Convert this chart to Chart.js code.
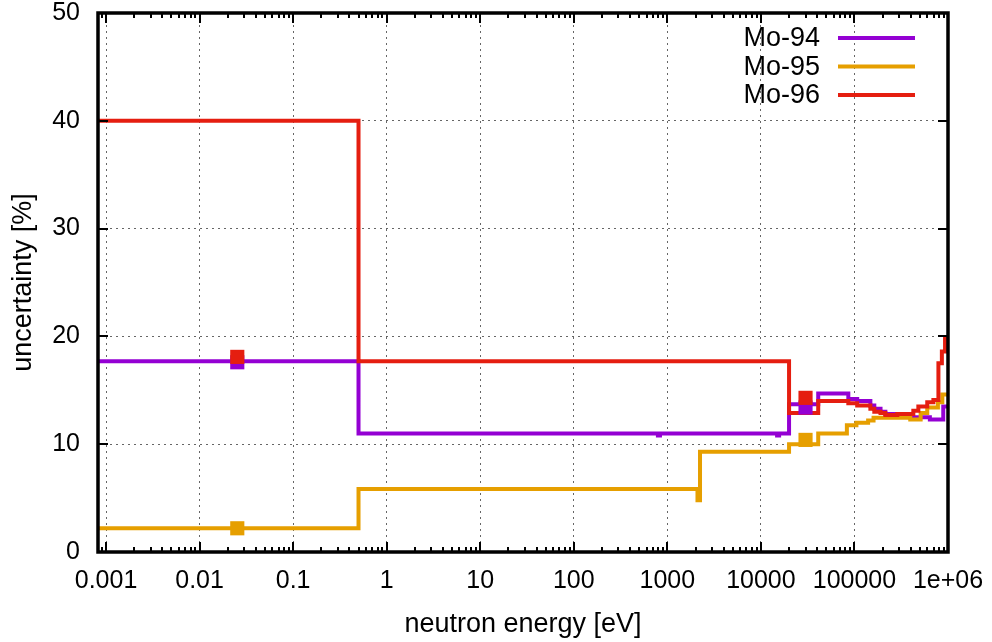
<!DOCTYPE html>
<html>
<head>
<meta charset="utf-8">
<script src="https://cdn.jsdelivr.net/npm/chart.js@4.4.0/dist/chart.umd.min.js"></script>
<style>
html,body{margin:0;padding:0;background:#fff;}
#wrap{width:992px;height:642px;position:relative;}
</style>
</head>
<body>
<div id="wrap"><canvas id="c" width="992" height="642"></canvas></div>
<script>
// ---------------- data ----------------
const seriesNames = ['Mo-94', 'Mo-95', 'Mo-96'];
const seriesColors = ['#9400D3', '#E69F00', '#E51E10'];

// bin lower edges (eV) and values (%) ; last edge closes the histogram
const mo94Energy = [1e-5, 0.5, 793, 834, 14900, 15660, 2.0e4, 4.1e4, 8.6e4, 1.07e5, 1.48e5, 1.63e5, 1.9e5, 2.14e5, 3.09e5, 3.95e5, 6.4e5, 8.9e5, 1e6];
const mo94Values = [17.7, 11.0, 10.8, 11.0, 10.8, 11.0, 13.7, 14.7, 14.2, 14.0, 13.6, 13.3, 13.0, 12.8, 12.6, 12.5, 12.3, 13.5, 13.5];

const mo95Energy = [1e-5, 0.5, 2100, 2235, 2.0e4, 4.1e4, 8.3e4, 1.05e5, 1.4e5, 1.6e5, 3.95e5, 5.1e5, 6.0e5, 7.8e5, 8.7e5, 1e6];
const mo95Values = [2.2, 5.85, 4.8, 9.3, 10.0, 11.0, 11.75, 12.0, 12.2, 12.45, 12.3, 12.9, 13.4, 13.9, 14.6, 14.6];

const mo96Energy = [1e-5, 0.5, 2.0e4, 4.1e4, 8.6e4, 1.07e5, 1.48e5, 1.63e5, 1.9e5, 2.14e5, 2.87e5, 4.26e5, 4.82e5, 6.0e5, 6.98e5, 7.9e5, 8.6e5, 9.3e5, 1e6];
const mo96Values = [40.0, 17.7, 12.9, 14.0, 13.8, 13.6, 13.3, 13.0, 12.9, 12.7, 12.8, 13.1, 13.5, 13.9, 14.1, 17.5, 18.6, 19.9, 19.9];

// thermal (0.0253 eV) and 30 keV point values
const pointEnergy = [0.0253, 30000];
const mo94Points = [17.6, 13.4];
const mo95Points = [2.2, 10.4];
const mo96Points = [18.1, 14.3];

const xTickValues = [1e-3, 1e-2, 1e-1, 1, 10, 100, 1000, 1e4, 1e5, 1e6];
const xTickLabels = ['0.001', '0.01', '0.1', '1', '10', '100', '1000', '10000', '100000', '1e+06'];
const yTickValues = [0, 10, 20, 30, 40, 50];
const xRange = [8.21e-4, 1e6];
const yRange = [0, 50];
const xTitle = 'neutron energy [eV]';
const yTitle = 'uncertainty [%]';

// ---------------- build ----------------
function toXY(xs, ys) { return xs.map((x, i) => ({x: x, y: ys[i]})); }
const stepSets = [[mo94Energy, mo94Values], [mo95Energy, mo95Values], [mo96Energy, mo96Values]];
const pointSets = [mo94Points, mo95Points, mo96Points];

const datasets = [];
stepSets.forEach((s, i) => {
  datasets.push({
    label: seriesNames[i],
    data: toXY(s[0], s[1]),
    borderColor: seriesColors[i],
    backgroundColor: seriesColors[i],
    borderWidth: 4,
    stepped: 'before',
    pointRadius: 0,
    fill: false,
    borderJoinStyle: 'miter',
    borderCapStyle: 'butt',
    order: 6 - i
  });
});
pointSets.forEach((p, i) => {
  datasets.push({
    label: seriesNames[i] + ' points',
    data: toXY(pointEnergy, p),
    showLine: false,
    pointStyle: 'rect',
    pointRadius: 10,
    pointHoverRadius: 10,
    pointBorderWidth: 0,
    pointBackgroundColor: seriesColors[i],
    borderColor: seriesColors[i],
    order: 3 - i
  });
});

const FONT = "'Liberation Sans', Arial, sans-serif";

const framePlugin = {
  id: 'frame',
  afterDraw(chart) {
    const ctx = chart.ctx;
    const a = chart.chartArea;
    const xs = chart.scales.x, ys = chart.scales.y;
    ctx.save();
    ctx.strokeStyle = '#000';
    // minor x ticks
    ctx.lineWidth = 2;
    ctx.beginPath();
    for (let k = -4; k <= 6; k++) {
      for (let m = 2; m <= 9; m++) {
        const v = m * Math.pow(10, k);
        if (v <= xRange[0] || v >= xRange[1]) continue;
        const px = Math.round(xs.getPixelForValue(v));
        ctx.moveTo(px, a.bottom); ctx.lineTo(px, a.bottom - 5);
        ctx.moveTo(px, a.top); ctx.lineTo(px, a.top + 5);
      }
    }
    // major x ticks
    xTickValues.forEach(v => {
      const px = Math.round(xs.getPixelForValue(v));
      ctx.moveTo(px, a.bottom); ctx.lineTo(px, a.bottom - 10);
      ctx.moveTo(px, a.top); ctx.lineTo(px, a.top + 10);
    });
    // major y ticks
    yTickValues.forEach(v => {
      const py = Math.round(ys.getPixelForValue(v));
      ctx.moveTo(a.left, py); ctx.lineTo(a.left + 10, py);
      ctx.moveTo(a.right, py); ctx.lineTo(a.right - 10, py);
    });
    ctx.stroke();
    // frame
    ctx.lineWidth = 3.5;
    ctx.strokeRect(a.left, a.top, a.right - a.left, a.bottom - a.top);
    // legend
    ctx.font = '27px ' + FONT;
    ctx.textAlign = 'right';
    ctx.textBaseline = 'middle';
    seriesNames.forEach((name, i) => {
      const y = 38 + i * 28.5;
      ctx.fillStyle = '#000';
      ctx.fillText(name, 820, y + 1);
      ctx.strokeStyle = seriesColors[i];
      ctx.lineWidth = 4;
      ctx.beginPath();
      ctx.moveTo(838, y); ctx.lineTo(915, y);
      ctx.stroke();
    });
    ctx.restore();
  }
};

new Chart(document.getElementById('c'), {
  type: 'line',
  data: { datasets: datasets },
  plugins: [framePlugin],
  options: {
    responsive: false,
    animation: false,
    devicePixelRatio: 1,
    layout: { padding: { top: 13, right: 44, left: 0, bottom: 0 } },
    plugins: { legend: { display: false }, tooltip: { enabled: false } },
    scales: {
      x: {
        type: 'logarithmic',
        min: xRange[0], max: xRange[1],
        afterBuildTicks(scale) { scale.ticks = xTickValues.map(v => ({value: v})); },
        afterFit(scale) { scale.height = 90; scale.paddingLeft = 0; scale.paddingRight = 0; },
        ticks: {
          autoSkip: false, maxRotation: 0, minRotation: 0, padding: 14, color: '#000',
          font: { family: FONT, size: 25 },
          callback(value, index) { return xTickLabels[index]; }
        },
        grid: { color: 'rgba(0,0,0,0.6)', lineWidth: 1, drawTicks: false },
        border: { display: false, dash: [2, 4] },
        title: { display: true, text: xTitle, color: '#000', font: { family: FONT, size: 27 }, padding: { top: 0, bottom: 1 } }
      },
      y: {
        type: 'linear',
        min: yRange[0], max: yRange[1],
        afterBuildTicks(scale) { scale.ticks = yTickValues.map(v => ({value: v})); },
        afterFit(scale) { scale.width = 98; scale.paddingTop = 0; scale.paddingBottom = 0; },
        ticks: { padding: 18, color: '#000', font: { family: FONT, size: 25 } },
        grid: { color: 'rgba(0,0,0,0.6)', lineWidth: 1, drawTicks: false },
        border: { display: false, dash: [2, 4] },
        title: { display: true, text: yTitle, color: '#000', font: { family: FONT, size: 27 }, padding: { top: 7, bottom: 0 } }
      }
    }
  }
});
</script>
</body>
</html>
